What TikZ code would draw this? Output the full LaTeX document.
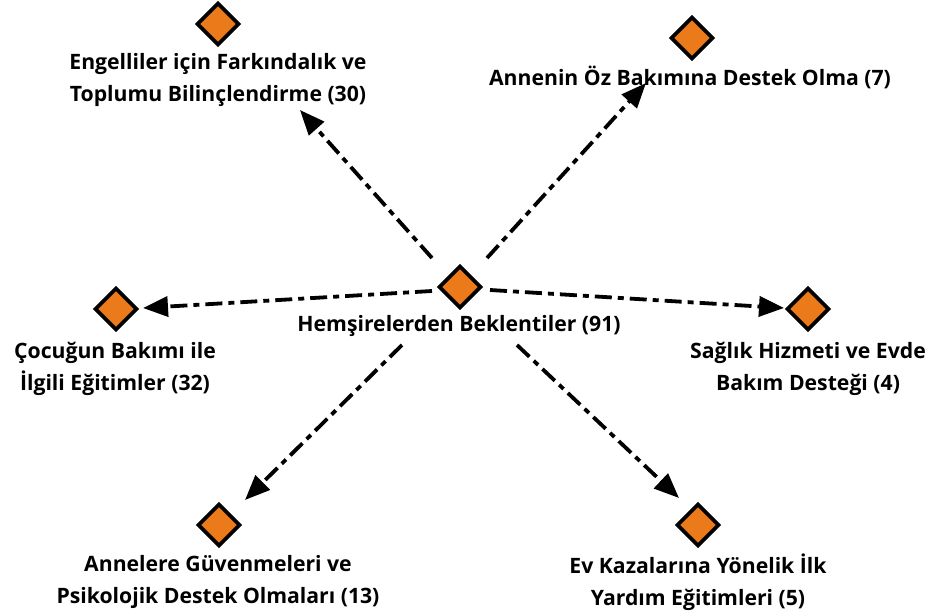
\documentclass[tikz,border=0pt]{standalone}
\usepackage{fontspec}
\setmainfont{Open Sans}
\usetikzlibrary{arrows.meta}
\definecolor{diafill}{HTML}{EB7A1A}
\tikzset{
  gem/.style={draw=black, line width=3.8pt, fill=diafill,
    inner sep=0pt, shape=rectangle, rotate=45, minimum width=29pt, minimum height=29pt},
  lbl/.style={font=\bfseries\fontsize{21.2}{31.5}\selectfont, align=center, inner sep=0pt, text=black},
  link/.style={line width=3.8pt, dash pattern=on 17pt off 6pt on 6pt off 6pt,
    -{Triangle[length=25pt,width=20pt]}}
}
\begin{document}
\begin{tikzpicture}[x=1pt,y=-1pt]
\useasboundingbox (0,0) rectangle (938,615);
% diamonds
\node[gem] (hub) at (460,287) {};
\node[gem] (tl) at (218,24) {};
\node[gem] (tr) at (692,38) {};
\node[gem] (ml) at (116,309) {};
\node[gem] (mr) at (808,309) {};
\node[gem] (bl) at (219,525) {};
\node[gem] (br) at (698,525) {};
% labels
\node[lbl] (hubtxt) at (459,326) {Hemşirelerden Beklentiler (91)};
\node[lbl] (tltxt) at (218,80) {Engelliler için Farkındalık ve\\Toplumu Bilinçlendirme (30)};
\node[lbl] (trtxt) at (690,77) {Annenin Öz Bakımına Destek Olma (7)};
\node[lbl] (mltxt) at (115,369) {Çocuğun Bakımı ile\\İlgili Eğitimler (32)};
\node[lbl] (mrtxt) at (808,369) {Sağlık Hizmeti ve Evde\\Bakım Desteği (4)};
\node[lbl] (bltxt) at (218,582) {Annelere Güvenmeleri ve\\Psikolojik Destek Olmaları (13)};
\node[lbl] (brtxt) at (698,582) {Ev Kazalarına Yönelik İlk\\Yardım Eğitimleri (5)};
% connector ends
\coordinate (sL) at (432,291);  \coordinate (eL) at (143,308);
\coordinate (sR) at (490,290);  \coordinate (eR) at (784,308);
\coordinate (sTL) at (432,258); \coordinate (eTL) at (300,110);
\coordinate (sTR) at (487,258); \coordinate (eTR) at (646,83);
\coordinate (sBL) at (402,345); \coordinate (eBL) at (245,500);
\coordinate (sBR) at (517,345); \coordinate (eBR) at (679,498);
\draw[link] (sL) -- (eL);
\draw[link] (sR) -- (eR);
\draw[link] (sTL) -- (eTL);
\draw[link] (sTR) -- (eTR);
\draw[link] (sBL) -- (eBL);
\draw[link] (sBR) -- (eBR);
\end{tikzpicture}
\end{document}
